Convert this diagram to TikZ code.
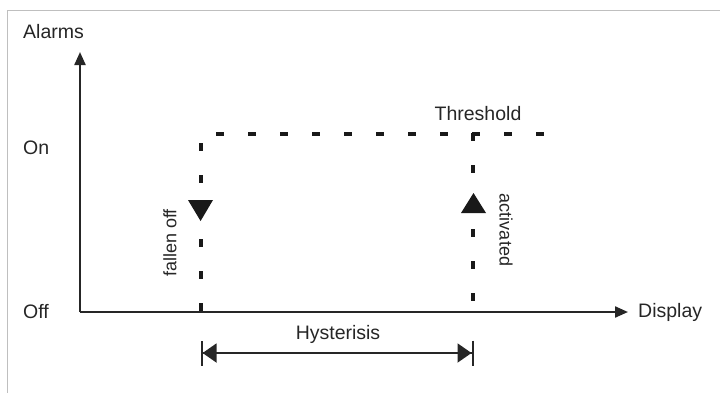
\documentclass[tikz,border=0pt]{standalone}
\usepackage{fontspec}
\setmainfont{Liberation Sans}
\usetikzlibrary{arrows.meta}
\begin{document}
\begin{tikzpicture}[x=1pt,y=-1pt,
  lbl/.style={inner sep=0pt,font=\fontsize{19.5}{22}\selectfont,text=black!85},
  rlbl/.style={inner sep=0pt,font=\fontsize{18}{20}\selectfont,text=black!85},
  axis/.style={line width=2.2pt,black!85,-{Triangle[length=13pt,width=11pt]}},
  dashline/.style={line width=4pt,black!90,dash pattern=on 8pt off 24pt},
  tri/.style={fill=black!90},
  dim/.style={line width=2pt,black!85,{Bar[width=25pt,line width=2pt]Triangle[length=14pt,width=19pt]}-{Triangle[length=14pt,width=19pt]Bar[width=25pt,line width=2pt]}}]
\useasboundingbox (0,0) rectangle (720,392);
\draw[black!25,line width=1pt] (7,10) rectangle (740,410);
% axes
\coordinate (O) at (80,312);
\coordinate (Ytip) at (80,52);
\coordinate (Xtip) at (628,312);
\draw[axis] (O) -- (Ytip);
\draw[axis] (O) -- (Xtip);
% labels
\node[lbl,anchor=west] (alarms) at (23,32) {Alarms};
\node[lbl,anchor=west] (on) at (23,148) {On};
\node[lbl,anchor=west] (off) at (23,312) {Off};
\node[lbl,anchor=west] (display) at (638,312) {Display};
\node[lbl] (thr) at (478,114) {Threshold};
\node[lbl] (hys) at (338,334) {Hysterisis};
\node[rlbl,rotate=90] (fall) at (170,243) {fallen off};
\node[rlbl,rotate=-90] (act) at (506,230) {activated};
% dashed lines
\coordinate (Htl) at (216,134);
\coordinate (Htr) at (546,134);
\coordinate (Lt) at (200.6,143);
\coordinate (Lb) at (200.6,312);
\coordinate (Rt) at (473,133);
\coordinate (Rb) at (473,305);
\draw[dashline] (Htl) -- (Htr);
\draw[dashline] (Lt) -- (Lb);
\draw[dashline] (Rt) -- (Rb);
% triangles
\fill[tri] (188,200) -- (213,200) -- (200.6,221) -- cycle;
\fill[tri] (461,213) -- (486,213) -- (473.5,193) -- cycle;
% dimension
\coordinate (DL) at (200.6,353);
\coordinate (DR) at (473.5,353);
\draw[dim] (DL) -- (DR);
\end{tikzpicture}
\end{document}
